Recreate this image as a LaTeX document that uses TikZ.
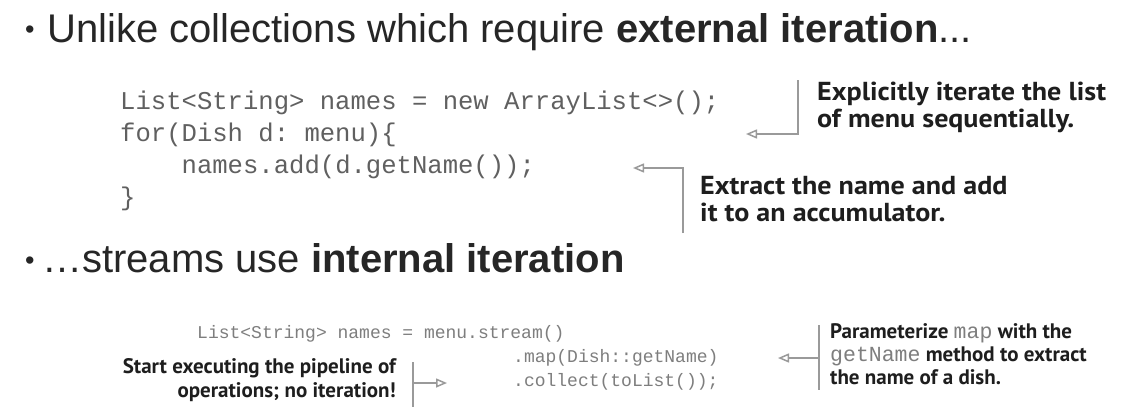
\documentclass[tikz,border=0pt]{standalone}
\usepackage{fontspec}
\setmainfont{Liberation Sans}
\setmonofont{Liberation Mono}
\newfontfamily\annfontA[FakeStretch=1.08]{PT Sans}
\newfontfamily\annfontB{PT Sans}
\usetikzlibrary{arrows.meta}
\definecolor{headc}{HTML}{262626}
\definecolor{codeA}{HTML}{606060}
\definecolor{codeB}{HTML}{7E7E7E}
\definecolor{annc}{HTML}{1E1E1E}
\definecolor{linec}{HTML}{9A9A9A}
\tikzset{
  heading/.style={anchor=base west, inner sep=0pt, text=headc, font=\fontsize{40}{46}\selectfont},
  bulletmark/.style={anchor=base west, inner sep=0pt, text=headc, font=\fontsize{27}{30}\selectfont},
  codeone/.style={anchor=base west, inner sep=0pt, text=codeA, font=\ttfamily\fontsize{25.6}{32}\selectfont},
  codetwo/.style={anchor=base west, inner sep=0pt, text=codeB, font=\ttfamily\fontsize{18}{24}\selectfont},
  annbig/.style={anchor=base west, inner sep=0pt, text=annc, font=\annfontA\bfseries\fontsize{26}{30}\selectfont},
  annsmall/.style={anchor=base west, inner sep=0pt, text=annc, font=\annfontB\bfseries\fontsize{21}{24}\selectfont},
  annsmallr/.style={annsmall, anchor=base east},
  bracketline/.style={draw=linec, line width=1.5pt},
  callout/.style={bracketline, -{Triangle[open, length=11pt, width=9pt]}},
}
\newcommand{\annmono}[1]{{\ttfamily\mdseries\color{codeB}\fontsize{21.5}{24}\selectfont#1}}
\begin{document}
\begin{tikzpicture}[x=1pt, y=-1pt]
\useasboundingbox[fill=white] (0,0) rectangle (1124,415);

% headings
\node[bulletmark] (bul1) at (25,38) {•};
\node[heading] (h1) at (47,42) {Unlike collections which require \textbf{external iteration}...};
\node[bulletmark] (bul2) at (25,269) {•};
\node[heading] (h2) at (42,272) {…streams use \textbf{internal iteration}};

% code block 1
\node[codeone] (c1a) at (120,109) {List<String> names = new ArrayList<>();};
\node[codeone] (c1b) at (120,141) {for(Dish d: menu)\{};
\node[codeone] (c1c) at (120,173) {\hphantom{0000}names.add(d.getName());};
\node[codeone] (c1d) at (120,205) {\}};

% annotations 1
\node[annbig] (a1a) at (817,100) {Explicitly iterate the list};
\node[annbig] (a1b) at (817,127) {of menu sequentially.};
\node[annbig] (a2a) at (700,194) {Extract the name and add};
\node[annbig] (a2b) at (700,221) {it to an accumulator.};

\coordinate (b1t) at (798,80);
\coordinate (b1c) at (798,134);
\coordinate (b1e) at (746,134);
\draw[callout] (b1t) -- (b1c) -- (b1e);

\coordinate (b2b) at (683,233);
\coordinate (b2c) at (683,168);
\coordinate (b2e) at (633,168);
\draw[callout] (b2b) -- (b2c) -- (b2e);

% code block 2
\node[codetwo] (c2a) at (197,338) {List<String> names = menu.stream()};
\node[codetwo] (c2b) at (513,362) {.map(Dish::getName)};
\node[codetwo] (c2c) at (513,386) {.collect(toList());};

% annotations 2
\node[annsmall] (a3a) at (830,338) {Parameterize \annmono{map} with the};
\node[annsmall] (a3b) at (830,361) {\annmono{getName} method to extract};
\node[annsmall] (a3c) at (830,384) {the name of a dish.};

\node[annsmallr] (a4a) at (396,373) {Start executing the pipeline of};
\node[annsmallr] (a4b) at (396,397) {operations; no iteration!};

\coordinate (b3t) at (819,325);
\coordinate (b3b) at (819,390);
\coordinate (b3m) at (819,358);
\coordinate (b3e) at (778,358);
\draw[bracketline] (b3t) -- (b3b);
\draw[callout] (b3m) -- (b3e);

\coordinate (b4t) at (413,362);
\coordinate (b4b) at (413,407);
\coordinate (b4m) at (413,383);
\coordinate (b4e) at (447,383);
\draw[bracketline] (b4t) -- (b4b);
\draw[callout] (b4m) -- (b4e);
\end{tikzpicture}
\end{document}
